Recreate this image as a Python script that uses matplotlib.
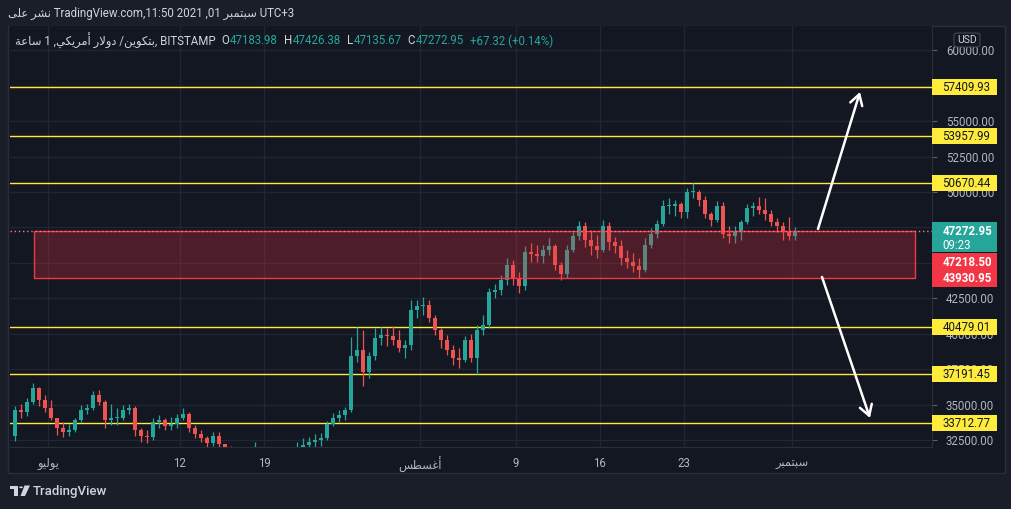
import datetime as dt
import numpy as np
import pandas as pd
import matplotlib
matplotlib.use('Agg')
import matplotlib.pyplot as plt
import matplotlib.dates as mdates
from matplotlib.patches import Rectangle, Polygon, Circle, FancyBboxPatch

plt.rcParams['font.family'] = ['Roboto', 'DejaVu Sans']

# ---------------- data (12-hour candles) ----------------
start_time = '2021-06-28 06:00'
open_first = 32800
closes = [34630, 34490, 35190, 36180, 35330, 34770, 34060, 33360, 33080, 33220,
          33920, 34630, 34770, 35690, 35190, 33920, 34060, 34060, 34630, 34770,
          33220, 32800, 32720, 33780, 33920, 33500, 33640, 34060, 34350, 33360,
          32940, 32650, 32300, 32800, 32230, 31810, 31670, 31460, 31380, 31460,
          31670, 31530, 31240, 30820, 30120, 30400, 31380, 31950, 32160, 32370,
          32510, 32650, 33640, 34060, 34280, 34630, 38440, 38860, 37310, 38440,
          39710, 39920, 39850, 39570, 39000, 39210, 41680, 41960, 42030, 41120,
          40270, 39570, 38860, 38300, 38160, 39570, 38300, 40270, 40620, 42950,
          43090, 43800, 44860, 43940, 43370, 45770, 45630, 45490, 45910, 46200,
          44860, 44220, 45910, 46900, 47610, 46620, 46200, 45910, 47610, 46480,
          46200, 45350, 45070, 44790, 44500, 46270, 47040, 47750, 49020, 49020,
          49160, 48590, 50000, 50000, 49440, 48450, 48030, 49020, 47040, 46900,
          47180, 47890, 48880, 49020, 48740, 48450, 47890, 47610, 47180, 46900,
          47273]
highs = [34910, 35050, 35480, 36530, 36250, 35690, 35330, 34060, 33780, 33640,
         34060, 34980, 35050, 35970, 36040, 35330, 35050, 34770, 34980, 35050,
         34910, 33360, 33220, 34060, 34280, 34060, 34140, 34350, 34770, 34490,
         33570, 33220, 32800, 33080, 33080, 32230, 32090, 32020, 31950, 31950,
         32370, 31950, 31880, 31670, 31100, 30680, 31670, 32370, 32650, 32720,
         32940, 33010, 33850, 34420, 34630, 34840, 39780, 40480, 40270, 38720,
         40410, 40480, 40410, 40550, 40270, 39570, 42390, 42390, 42600, 42390,
         41330, 40410, 39920, 39210, 39000, 39850, 39990, 40620, 41330, 43230,
         43520, 44150, 45350, 45210, 44360, 46200, 46410, 46270, 46270, 46760,
         46340, 45070, 46270, 47180, 47960, 47890, 47320, 46970, 48030, 47890,
         46830, 46620, 45910, 45700, 45350, 46760, 47470, 48030, 49440, 49580,
         49440, 49300, 50290, 50640, 50150, 49720, 48590, 49370, 49300, 47610,
         47610, 48030, 49160, 49300, 49650, 49580, 48740, 48170, 47890, 48240,
         47540]
lows = [32440, 34060, 34210, 35050, 34910, 34490, 33920, 32870, 32720, 32800,
        33080, 33780, 34350, 34630, 34980, 33360, 33570, 33570, 33920, 34350,
        32800, 32370, 32300, 32510, 33360, 33220, 33220, 33360, 33920, 33080,
        32650, 32370, 32020, 32090, 32020, 31460, 31240, 31100, 31100, 30960,
        31240, 31100, 30960, 30540, 29830, 29340, 30260, 31100, 31670, 31810,
        32020, 32090, 32510, 33500, 33780, 33920, 34490, 38010, 36320, 36890,
        38160, 39210, 39140, 39210, 38720, 38300, 38860, 41120, 41330, 40840,
        39920, 39000, 38510, 37800, 37590, 38010, 38010, 37170, 39920, 40410,
        42530, 42740, 43450, 43450, 42880, 43090, 45070, 45070, 45000, 45560,
        44500, 43800, 43940, 45770, 46620, 46130, 45560, 45350, 45770, 45910,
        45700, 44860, 44640, 44360, 43940, 44360, 46060, 46760, 47610, 48450,
        48310, 48170, 48170, 49580, 49020, 48170, 47610, 47890, 46760, 46410,
        46410, 46620, 47750, 48310, 48450, 48030, 47610, 47180, 46620, 46620,
        46620]

levels = [57409.93, 53957.99, 50670.44, 40479.01, 37191.45, 33712.77]
zone_top, zone_bottom = 47218.50, 43930.95
zone_start, zone_end = '2021-06-29 20:00', '2021-09-11 06:00'
last_price = 47272.95
countdown = '09:23'
y_ticks = [32500, 35000, 37500, 40000, 42500, 45000, 47500, 50000, 52500, 55000, 57500, 60000]
y_hidden = [45000, 47500, 57500]   # covered by the price labels in the reference
x_tick_dates = ['2021-07-01', '2021-07-12', '2021-07-19', '2021-08-01',
                '2021-08-09', '2021-08-16', '2021-08-23', '2021-09-01']
x_tick_labels = ['يوليو', '12', '19', 'أغسطس', '9', '16', '23', 'سبتمبر']
legend_ohlc = [('O', '47183.98'), ('H', '47426.38'), ('L', '47135.67'), ('C', '47272.95')]
legend_change = '+67.32 (+0.14%)'
arrow_up = (('2021-09-03 04:00', 47395), ('2021-09-06 16:00', 57057))
arrow_down = (('2021-09-03 12:00', 44010), ('2021-09-07 12:00', 34066))

# ---------------- minimal Arabic shaping (presentation forms) ----------------
FORMS = {
    'ا': ('\uFE8D', '\uFE8E', None, None), 'أ': ('\uFE83', '\uFE84', None, None),
    'ب': ('\uFE8F', '\uFE90', '\uFE91', '\uFE92'), 'ت': ('\uFE95', '\uFE96', '\uFE97', '\uFE98'),
    'ة': ('\uFE93', '\uFE94', None, None), 'د': ('\uFEA9', '\uFEAA', None, None),
    'ر': ('\uFEAD', '\uFEAE', None, None), 'س': ('\uFEB1', '\uFEB2', '\uFEB3', '\uFEB4'),
    'ش': ('\uFEB5', '\uFEB6', '\uFEB7', '\uFEB8'), 'ط': ('\uFEC1', '\uFEC2', '\uFEC3', '\uFEC4'),
    'ع': ('\uFEC9', '\uFECA', '\uFECB', '\uFECC'), 'غ': ('\uFECD', '\uFECE', '\uFECF', '\uFED0'),
    'ك': ('\uFED9', '\uFEDA', '\uFEDB', '\uFEDC'), 'ل': ('\uFEDD', '\uFEDE', '\uFEDF', '\uFEE0'),
    'م': ('\uFEE1', '\uFEE2', '\uFEE3', '\uFEE4'), 'ن': ('\uFEE5', '\uFEE6', '\uFEE7', '\uFEE8'),
    'و': ('\uFEED', '\uFEEE', None, None), 'ى': ('\uFEEF', '\uFEF0', None, None),
    'ي': ('\uFEF1', '\uFEF2', '\uFEF3', '\uFEF4'),
}
LAMALEF = {'ا': ('\uFEFB', '\uFEFC'), 'أ': ('\uFEF7', '\uFEF8')}


def _dual(c):
    return c in FORMS and FORMS[c][2] is not None


def shape(s):
    out, i, n = [], 0, len(s)
    while i < n:
        c = s[i]
        prev = s[i - 1] if i > 0 else None
        cp = prev is not None and _dual(prev) and c in FORMS
        if c == 'ل' and i + 1 < n and s[i + 1] in LAMALEF:
            lig = LAMALEF[s[i + 1]]
            out.append(lig[1] if cp else lig[0])
            i += 2
            continue
        if c not in FORMS:
            out.append(c)
            i += 1
            continue
        nxt = s[i + 1] if i + 1 < n else None
        cn = _dual(c) and nxt is not None and nxt in FORMS
        iso, fin, ini, med = FORMS[c]
        out.append(med if (cp and cn) else fin if cp else ini if cn else iso)
        i += 1
    return ''.join(out)


def ar(s):
    return shape(s)[::-1]


# ---------------- styling ----------------
W, H = 1012, 509
BG = '#131722'
BG_OUT = '#1a1e29'
BORDER = '#2a2e39'
GRID = '#222632'
TXT = '#b2b5be'
TXT2 = '#d1d4dc'
UP, DOWN = '#26a69a', '#ef5350'
YEL = '#ffeb3b'
FS = 8.3

fig = plt.figure(figsize=(W / 100, H / 100), dpi=100)
fig.patch.set_facecolor(BG_OUT)


def fx(x):
    return x / W


def fy(y):
    return 1 - y / H


fig.add_artist(Rectangle((fx(8), fy(473)), (1005 - 8) / W, (473 - 26) / H,
                         transform=fig.transFigure, facecolor=BG, edgecolor=BORDER,
                         lw=1, zorder=-1))

ax = fig.add_axes([fx(10), fy(447), 922 / W, (447 - 26) / H])
ax.set_facecolor(BG)

t0 = mdates.date2num(dt.datetime(2021, 7, 1))
ax.set_xlim(t0 - 3.1667, t0 + 73.667)
ax.set_ylim(32020, 61710)

# candles
times = mdates.date2num(pd.date_range(start_time, periods=len(closes), freq='12h').to_pydatetime())
c = np.array(closes, float)
o = np.concatenate([[open_first], c[:-1]])
hi = np.array(highs, float)
lo = np.array(lows, float)
cols = np.where(c >= o, UP, DOWN)
ax.vlines(times, lo, hi, colors=cols, lw=0.9, zorder=3)
body = np.maximum(np.abs(c - o), 60)
ax.bar(times, body, bottom=np.minimum(o, c), width=0.27, color=cols, lw=0, zorder=3)

# horizontal levels
for lv in levels:
    ax.axhline(lv, color=YEL, lw=1, zorder=2)

# zone rectangle
zs = mdates.date2num(pd.Timestamp(zone_start).to_pydatetime())
ze = mdates.date2num(pd.Timestamp(zone_end).to_pydatetime())
ax.add_patch(Rectangle((zs, zone_bottom), ze - zs, zone_top - zone_bottom,
                       facecolor=(0.90, 0.20, 0.25, 0.28), edgecolor='#f23645', lw=1, zorder=4))
ax.axhline(last_price, color='#f77c80', lw=1, ls=(0, (1, 2)), zorder=5)

# arrows
for (a, b) in (arrow_up, arrow_down):
    xa = mdates.date2num(pd.Timestamp(a[0]).to_pydatetime())
    xb = mdates.date2num(pd.Timestamp(b[0]).to_pydatetime())
    ax.annotate('', xy=(xb, b[1]), xytext=(xa, a[1]),
                arrowprops=dict(arrowstyle='->,head_length=0.75,head_width=0.45',
                                color='white', lw=1.8, shrinkA=0, shrinkB=0),
                zorder=6)

# axes styling
ax.grid(True, color=GRID, lw=1, zorder=0)
ax.set_axisbelow(True)
for s in ('left', 'top'):
    ax.spines[s].set_visible(False)
for s in ('bottom', 'right'):
    ax.spines[s].set_color(BORDER)
ax.yaxis.tick_right()
ax.set_yticks(y_ticks)
ax.set_yticklabels(['' if v in y_hidden else f'{v:.2f}' for v in y_ticks])
ax.tick_params(axis='y', length=3.5, width=0.8, color='#5d606b', pad=6.5,
               labelsize=FS, labelcolor=TXT)
xt = [mdates.date2num(pd.Timestamp(d).to_pydatetime()) for d in x_tick_dates]
ax.set_xticks(xt)
ax.set_xticklabels([ar(l) if not l.isdigit() else l for l in x_tick_labels])
ax.tick_params(axis='x', length=0, pad=7, labelsize=FS, labelcolor=TXT)


def ypx(p):
    return H - ax.transData.transform((ax.get_xlim()[0], p))[1]


# right-side price labels
for lv in levels:
    yy = ypx(lv)
    fig.add_artist(Rectangle((fx(932), fy(yy + 8)), 65 / W, 16 / H, transform=fig.transFigure,
                             facecolor=YEL, edgecolor='none', zorder=6))
    fig.text(fx(942.5), fy(yy + 0.5), f'{lv:.2f}', fontsize=FS, color='#131722',
             ha='left', va='center', zorder=7)

yl = ypx(last_price)
fig.add_artist(Rectangle((fx(932), fy(yl + 21)), 65 / W, 30 / H, transform=fig.transFigure,
                         facecolor=UP, edgecolor='none', zorder=6))
fig.text(fx(942.5), fy(yl + 0.5), f'{last_price:.2f}', fontsize=FS, color='white',
         ha='left', va='center', zorder=7, fontweight='bold')
fig.text(fx(942.5), fy(yl + 14.5), countdown, fontsize=FS, color='white',
         ha='left', va='center', zorder=7)

yb = ypx(zone_bottom)
fig.add_artist(Rectangle((fx(932), fy(yb + 9)), 65 / W, 34 / H, transform=fig.transFigure,
                         facecolor='#f23645', edgecolor='none', zorder=6))
fig.text(fx(942.5), fy(yb - 15.5), f'{zone_top:.2f}', fontsize=FS, color='white',
         ha='left', va='center', zorder=7, fontweight='bold')
fig.text(fx(942.5), fy(yb + 0.5), f'{zone_bottom:.2f}', fontsize=FS, color='white',
         ha='left', va='center', zorder=7, fontweight='bold')

# USD badge
fig.add_artist(FancyBboxPatch((fx(954), fy(47)), 26 / W, 14 / H, transform=fig.transFigure,
                              boxstyle='round,pad=0,rounding_size=0.004',
                              facecolor=BG, edgecolor='#434651', lw=0.8, zorder=8))
fig.text(fx(967), fy(40), 'USD', fontsize=7.5, color=TXT2, ha='center', va='center', zorder=9)

# header texts
fig.text(fx(8), fy(13), ar('نشر على') + ' TradingView.com,11:50 2021 ,01 ' + ar('سبتمبر') + ' UTC+3',
         fontsize=FS, color=TXT2, ha='left', va='center')

renderer = fig.canvas.get_renderer()


def chain(pieces, x, y):
    for s, col, gap in pieces:
        x += gap
        t = fig.text(fx(x), fy(y), s, fontsize=FS, color=col, ha='left', va='center', zorder=7)
        bb = t.get_window_extent(renderer)
        x = bb.x1


pieces = [(ar('ساعة') + ' 1 ,' + ar('بتكوين/ دولار أمريكي') + ', BITSTAMP', TXT2, 0)]
for k, v in legend_ohlc:
    pieces.append((k, TXT2, 6))
    pieces.append((v, UP, 0.5))
pieces.append((legend_change, UP, 6))
chain(pieces, 15, 41)

# footer logo
LOGO = '#d1d4dc'
fig.add_artist(Polygon([(fx(10), fy(485.5)), (fx(18), fy(485.5)), (fx(18), fy(496)),
                        (fx(14.5), fy(496)), (fx(14.5), fy(489)), (fx(10), fy(489))],
                       closed=True, transform=fig.transFigure, facecolor=LOGO, edgecolor='none'))
fig.add_artist(Circle((fx(21), fy(487.3)), 1.8 / W, transform=fig.transFigure,
                      facecolor=LOGO, edgecolor='none'))
fig.add_artist(Polygon([(fx(24.5), fy(485.5)), (fx(30), fy(485.5)), (fx(25), fy(496)), (fx(20.5), fy(496))],
                       closed=True, transform=fig.transFigure, facecolor=LOGO, edgecolor='none'))
fig.text(fx(33), fy(491), 'TradingView', fontsize=9.5, color=LOGO, ha='left', va='center',
         fontweight='medium')

fig.savefig('out.png', dpi=100, facecolor=fig.get_facecolor())
